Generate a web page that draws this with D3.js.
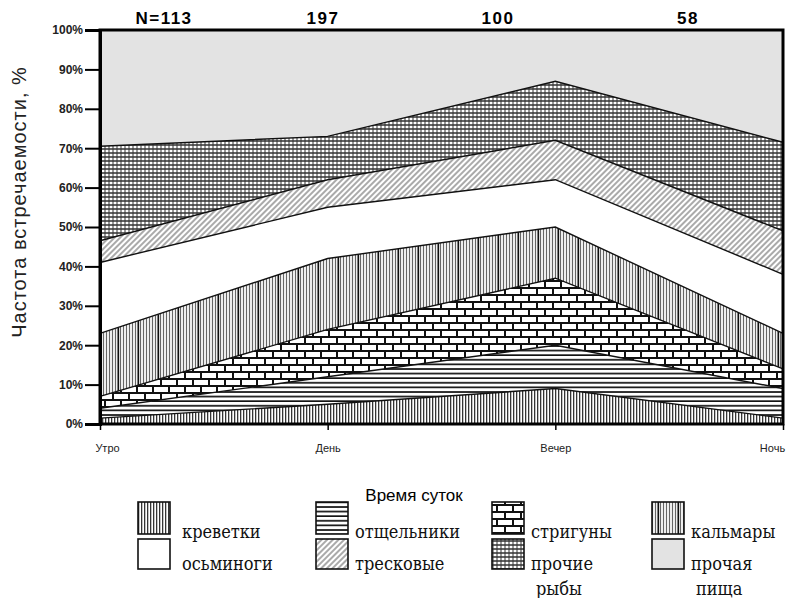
<!DOCTYPE html>
<html>
<head>
<meta charset="utf-8">
<script src="https://cdn.jsdelivr.net/npm/d3@7"></script>
<style>
  body { margin: 0; background: #fff; }
  svg { display: block; }
  .axis text { font-family: Arial, "Liberation Sans", sans-serif; }
</style>
</head>
<body>
<svg id="chart" width="786" height="598"></svg>
<script>
// time of day categories and sample sizes
const periods = ['Утро', 'День', 'Вечер', 'Ночь'];
const sampleSizes = ['N=113', '197', '100', '58'];

// share of each food item (%), one value per period, bottom to top
const krevetki = [1.5, 5, 9, 1.5];
const otshelniki = [2.5, 7, 11, 7.5];
const striguny = [3, 12, 17, 5];
const kalmary = [16, 18, 13, 9];
const osminogi = [18, 13, 12, 15];
const treskovye = [5.5, 7, 10, 11];
const prochieRyby = [24, 11, 15, 22.5];
const prochayaPishcha = [29.5, 27, 13, 28.5];

const seriesNames = ['креветки', 'отщельники', 'стригуны', 'кальмары',
  'осьминоги', 'тресковые', 'прочие рыбы', 'прочая пища'];
const seriesValues = [krevetki, otshelniki, striguny, kalmary,
  osminogi, treskovye, prochieRyby, prochayaPishcha];
const yTicks = [0, 10, 20, 30, 40, 50, 60, 70, 80, 90, 100];

const svg = d3.select('#chart');
const mLeft = 100, mRight = 783, mTop = 30, mBottom = 424;

// fill patterns
const defs = svg.append('defs');
function pattern(id, w, h) {
  return defs.append('pattern').attr('id', id)
    .attr('patternUnits', 'userSpaceOnUse')
    .attr('width', w).attr('height', h);
}
let p = pattern('p0', 3, 10);
p.append('rect').attr('width', 3).attr('height', 10).attr('fill', '#fff');
p.append('line').attr('x1', 0.7).attr('x2', 0.7).attr('y1', 0).attr('y2', 10)
  .attr('stroke', '#111').attr('stroke-width', 1.1);

p = pattern('p1', 10, 4.6);
p.append('rect').attr('width', 10).attr('height', 4.6).attr('fill', '#fff');
p.append('line').attr('x1', 0).attr('x2', 10).attr('y1', 1).attr('y2', 1)
  .attr('stroke', '#111').attr('stroke-width', 1.7);

p = pattern('p2', 16, 14);
p.append('rect').attr('width', 16).attr('height', 14).attr('fill', '#fff');
p.append('path').attr('d', 'M0,1H16M0,8H16M1,1V8M9,8V15')
  .attr('stroke', '#111').attr('stroke-width', 2).attr('fill', 'none');

p = pattern('p3', 20, 10);
p.append('rect').attr('width', 20).attr('height', 10).attr('fill', '#eee');
[0.5, 3.5, 6.5, 9.5, 12.5, 15.5].forEach(x => {
  p.append('line').attr('x1', x).attr('x2', x).attr('y1', 0).attr('y2', 10)
    .attr('stroke', '#666').attr('stroke-width', 1);
});
p.append('line').attr('x1', 18.3).attr('x2', 18.3).attr('y1', 0).attr('y2', 10)
  .attr('stroke', '#111').attr('stroke-width', 1.6);

p = pattern('p5', 4, 10).attr('patternTransform', 'rotate(45)');
p.append('rect').attr('width', 4).attr('height', 10).attr('fill', '#fff');
p.append('line').attr('x1', 1).attr('x2', 1).attr('y1', 0).attr('y2', 10)
  .attr('stroke', '#555').attr('stroke-width', 1);

p = pattern('p6', 4, 4);
p.append('rect').attr('width', 4).attr('height', 4).attr('fill', '#fff');
p.append('line').attr('x1', 0).attr('x2', 4).attr('y1', 1).attr('y2', 1)
  .attr('stroke', '#111').attr('stroke-width', 1.3);
p.append('line').attr('x1', 1).attr('x2', 1).attr('y1', 0).attr('y2', 4)
  .attr('stroke', '#333').attr('stroke-width', 1);

const fills = ['url(#p0)', 'url(#p1)', 'url(#p2)', 'url(#p3)', '#fff',
  'url(#p5)', 'url(#p6)', '#e3e3e3'];

// scales
const x = d3.scalePoint().domain(periods).range([mLeft, mRight]);
const y = d3.scaleLinear().domain([0, 100]).range([mBottom, mTop]);

const table = periods.map((per, i) => {
  const row = { period: per };
  seriesNames.forEach((s, k) => { row[s] = seriesValues[k][i]; });
  return row;
});
const stacked = d3.stack().keys(seriesNames)(table);

const area = d3.area()
  .x(d => x(d.data.period))
  .y0(d => y(d[0]))
  .y1(d => y(d[1]));
const line = d3.line()
  .x(d => x(d.data.period))
  .y(d => y(d[1]));

svg.append('g').selectAll('path')
  .data(stacked)
  .enter()
  .append('path')
  .attr('d', area)
  .attr('fill', (d, i) => fills[i]);

svg.append('g').selectAll('path')
  .data(stacked.slice(0, -1))
  .enter()
  .append('path')
  .attr('d', line)
  .attr('fill', 'none')
  .attr('stroke', '#111')
  .attr('stroke-width', 1.4);

// frame
svg.append('path')
  .attr('d', `M${mLeft},${mTop}H${mRight}V${mBottom}H${mLeft}Z`)
  .attr('fill', 'none').attr('stroke', '#000').attr('stroke-width', 3);

// y axis
const yAxis = svg.append('g').attr('class', 'axis')
  .attr('transform', `translate(${mLeft},0)`)
  .call(d3.axisLeft(y).tickValues(yTicks).tickFormat(d => d + '%')
    .tickSize(15).tickPadding(2));
yAxis.select('.domain').attr('stroke-width', 3);
yAxis.selectAll('line').attr('stroke-width', 2);
yAxis.selectAll('text').attr('font-size', 12).attr('font-weight', 'bold')
  .attr('fill', '#222');

// x axis
const xAxis = svg.append('g').attr('class', 'axis')
  .attr('transform', `translate(0,${mBottom})`)
  .call(d3.axisBottom(x).tickSize(6).tickPadding(14));
xAxis.select('.domain').remove();
xAxis.selectAll('line').attr('stroke-width', 1.5);
xAxis.selectAll('text').attr('font-size', 11).attr('fill', '#222');
xAxis.selectAll('.tick').filter(d => d === periods[0]).select('text').attr('dx', 7);
xAxis.selectAll('.tick').filter(d => d === periods[3]).select('text').attr('dx', -11);

// sample sizes above the plot
const nPos = [164, 323, 498, 688];
svg.append('g').selectAll('text')
  .data(sampleSizes)
  .enter()
  .append('text')
  .attr('x', (d, i) => nPos[i])
  .attr('y', 24)
  .attr('text-anchor', 'middle')
  .attr('font-family', 'Arial, sans-serif')
  .attr('font-size', 17)
  .attr('font-weight', 'bold')
  .attr('letter-spacing', 1.5)
  .text(d => d);

// y title
svg.append('text')
  .attr('transform', 'translate(26,202) rotate(-90)')
  .attr('text-anchor', 'middle')
  .attr('font-family', 'Arial, sans-serif')
  .attr('font-size', 20)
  .attr('letter-spacing', 1)
  .attr('fill', '#222')
  .text('Частота встречаемости, %');

// x title
svg.append('text')
  .attr('x', 414).attr('y', 501)
  .attr('text-anchor', 'middle')
  .attr('font-family', 'Arial, sans-serif')
  .attr('font-size', 17)
  .text('Время суток');

// legend: four columns, two rows
const legendX = [138, 316, 492, 652];
const legendY = [502, 539];
const lg = svg.append('g');
seriesNames.forEach((name, i) => {
  const col = i % 4, row = Math.floor(i / 4);
  const sx = legendX[col], sy = legendY[row];
  lg.append('rect')
    .attr('x', sx).attr('y', sy).attr('width', 32).attr('height', row ? 30 : 32)
    .attr('fill', fills[i]).attr('stroke', '#111').attr('stroke-width', 1.6);
  const words = name.split(' ');
  words.forEach((w, j) => {
    lg.append('text')
      .attr('x', sx + (col ? 39 : 44) + (j ? 5 : 0))
      .attr('y', sy + (row ? 31 : 36) + j * 25)
      .attr('font-family', '"DejaVu Serif Condensed", "DejaVu Serif", serif')
      .attr('font-size', 18)
      .attr('fill', '#111')
      .text(w);
  });
});
</script>
</body>
</html>
